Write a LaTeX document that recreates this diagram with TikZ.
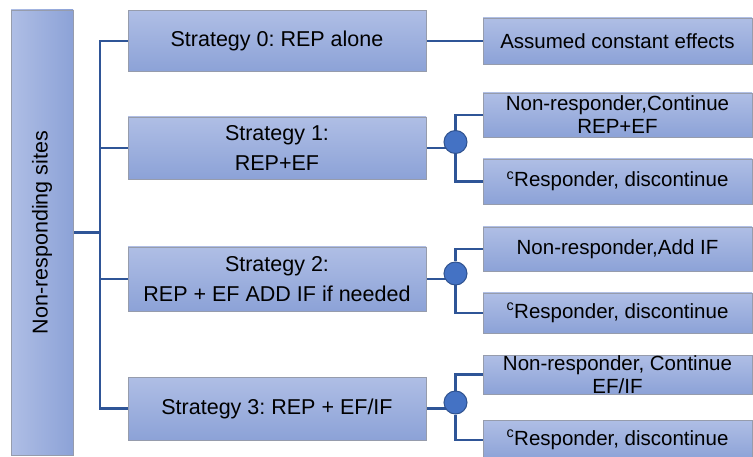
\documentclass[tikz,border=0pt]{standalone}
\usepackage{fontspec}
\setmainfont{Liberation Sans}
\frenchspacing
\usetikzlibrary{backgrounds}
\definecolor{boxtop}{RGB}{175,190,229}
\definecolor{boxbot}{RGB}{140,162,215}
\definecolor{boxline}{RGB}{150,156,172}
\definecolor{linkc}{RGB}{47,85,151}
\definecolor{dotfill}{RGB}{68,114,196}
\definecolor{dotline}{RGB}{47,82,143}
\tikzset{
  box/.style={draw=boxline, line width=0.8pt, top color=boxtop, bottom color=boxbot,
    inner sep=0pt, align=center, font=\fontsize{21.5}{30}\selectfont},
  rbox/.style={box, minimum width=269pt, font=\fontsize{20.5}{23}\selectfont},
  sbox/.style={box, minimum width=298pt},
  dot/.style={circle, draw=dotline, line width=1pt, fill=dotfill, minimum size=23pt, inner sep=0pt},
  link/.style={draw=linkc, line width=2.2pt}
}
\begin{document}
\begin{tikzpicture}[x=1pt,y=-1pt]
\useasboundingbox (0,0) rectangle (753,457);
% left box
\node[box, left color=boxtop, right color=boxbot, minimum width=62pt, minimum height=445pt] (L) at (42,232.5) {\rotatebox{90}{Non-responding sites}};
% strategies
\node[sbox, minimum height=61pt] (S0) at (277,41) {Strategy 0: REP alone};
\node[sbox, minimum height=62pt] (S1) at (277,148) {Strategy 1:\\REP+EF};
\node[sbox, minimum height=64pt] (S2) at (277,279) {Strategy 2:\\REP + EF ADD IF if needed};
\node[sbox, minimum height=63pt] (S3) at (277,408.5) {Strategy 3: REP + EF/IF};
% right boxes
\node[rbox, minimum height=46pt] (A0) at (617.5,41) {Assumed constant effects};
\node[rbox, minimum height=44pt] (R1a) at (617.5,115) {Non-responder,Continue\\REP+EF};
\node[rbox, minimum height=45pt] (R1b) at (617.5,181.5) {\textsuperscript{c}Responder, discontinue};
\node[rbox, minimum height=44pt] (R2a) at (617.5,249) {Non-responder,Add IF};
\node[rbox, minimum height=40pt] (R2b) at (617.5,313) {\textsuperscript{c}Responder, discontinue};
\node[rbox, minimum height=39pt] (R3a) at (617.5,374.5) {Non-responder, Continue\\EF/IF};
\node[rbox, minimum height=40pt] (R3b) at (617.5,440) {\textsuperscript{c}Responder, discontinue};
% dots
\node[dot] (C1) at (455.5,142) {};
\node[dot] (C2) at (455.5,273.5) {};
\node[dot] (C3) at (455.5,402.5) {};
\coordinate (T) at (100,232.5);
\begin{pgfonlayer}{background}
\draw[link] (L.east) -- (T);
\draw[link] (T) |- (S0.west);
\draw[link] (T) |- (S1.west);
\draw[link] (T) |- (S2.west);
\draw[link] (T) |- (S3.west);
\draw[link] (S0.east) -- (A0.west);
\draw[link] (S1.east) -- (S1.east -| C1);
\draw[link] (S2.east) -- (S2.east -| C2);
\draw[link] (S3.east) -- (S3.east -| C3);
\draw[link] (C1) |- (R1a.west);
\draw[link] (C1) |- (R1b.west);
\draw[link] (C2) |- (R2a.west);
\draw[link] (C2) |- (R2b.west);
\draw[link] (C3) |- (R3a.west);
\draw[link] (C3) |- (R3b.west);
\end{pgfonlayer}
\end{tikzpicture}
\end{document}
